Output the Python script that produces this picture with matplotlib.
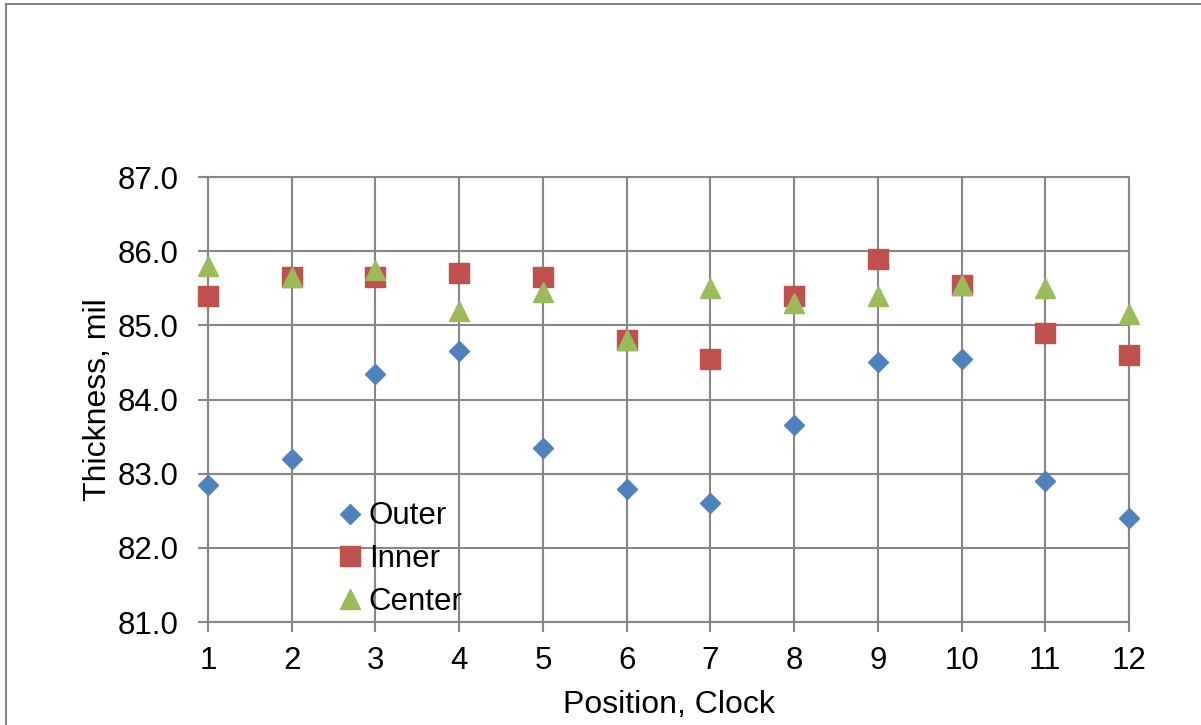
import numpy as np
import matplotlib
matplotlib.use("Agg")
from matplotlib import pyplot as plt
from matplotlib.patches import Rectangle

plt.rcParams["font.family"] = ["Liberation Sans", "DejaVu Sans"]

# clock positions and measured thickness (mil)
positions = [1, 2, 3, 4, 5, 6, 7, 8, 9, 10, 11, 12]
outer = [82.85, 83.2, 84.35, 84.65, 83.35, 82.8, 82.6, 83.65, 84.5, 84.55, 82.9, 82.4]
inner = [85.4, 85.65, 85.65, 85.7, 85.65, 84.8, 84.55, 85.4, 85.9, 85.55, 84.9, 84.6]
center = [85.8, 85.65, 85.75, 85.2, 85.45, 84.8, 85.5, 85.3, 85.4, 85.55, 85.5, 85.15]
y_ticks = [81.0, 82.0, 83.0, 84.0, 85.0, 86.0, 87.0]

grid_col = "#878787"
fs = 22.5

fig = plt.figure(figsize=(12.01, 7.25), dpi=100)
ax = fig.add_axes([208 / 1201, 1 - 622 / 725, (1129 - 208) / 1201, (622 - 177) / 725])

# outer border of the chart area
fig.patches.append(Rectangle((6 / 1201, -0.1), 1.2, 1 - 4 / 725 + 0.1,
                             transform=fig.transFigure, fill=False,
                             edgecolor=grid_col, linewidth=1.5))

ax.plot(positions, outer, linestyle="none", marker="D", markersize=10.2,
        color="#4F81BD", label="Outer", clip_on=False, zorder=3)
ax.plot(positions, inner, linestyle="none", marker="s", markersize=14.2,
        color="#C0504D", label="Inner", clip_on=False, zorder=3)
ax.plot(positions, center, linestyle="none", marker="^", markersize=14.2,
        color="#9BBB59", label="Center", clip_on=False, zorder=4)

ax.set_xlim(1, 12)
ax.set_ylim(81, 87)
ax.set_xticks(positions)
ax.set_yticks(y_ticks)
ax.set_yticklabels(["%.1f" % v for v in y_ticks])

ax.set_axisbelow(True)
ax.grid(True, color=grid_col, linewidth=1.5)
for sp in ax.spines.values():
    sp.set_color(grid_col)
    sp.set_linewidth(1.5)
ax.tick_params(axis="both", direction="out", length=7.2, width=1.5,
               color=grid_col, labelsize=fs)
ax.tick_params(axis="y", pad=14)
ax.tick_params(axis="x", pad=10)

ax.set_xlabel("Position, Clock", fontsize=23, labelpad=10)
ax.set_ylabel("Thickness, mil", fontsize=23, labelpad=3)

ax.legend(loc="center left", bbox_to_anchor=(339 / 1201, 1 - 559 / 725),
          bbox_transform=fig.transFigure, frameon=False, fontsize=fs,
          handlelength=0.7, handletextpad=0.25, labelspacing=0.4,
          borderpad=0, borderaxespad=0, numpoints=1)

fig.savefig("out.png", dpi=100)
